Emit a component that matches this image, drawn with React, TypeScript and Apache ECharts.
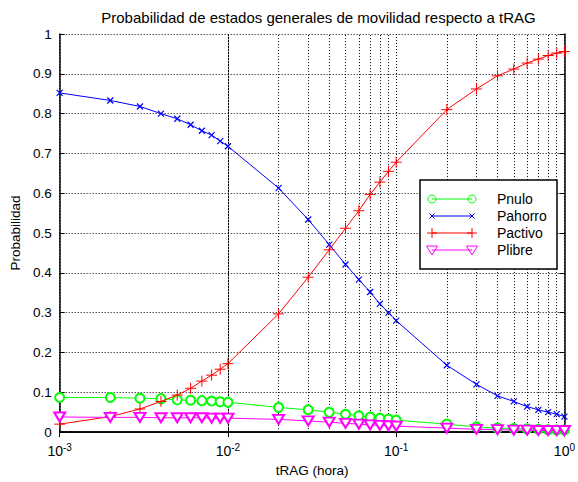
import React, { useEffect, useRef } from 'react';
import * as echarts from 'echarts';

const titleText = 'Probabilidad de estados generales de movilidad respecto a tRAG';
const xName = 'tRAG (hora)';
const yName = 'Probabilidad';
const seriesNames = ['Pnulo', 'Pahorro', 'Pactivo', 'Plibre'];

const tRAG = [
  0.001, 0.002, 0.003, 0.004, 0.005, 0.006, 0.007, 0.008, 0.009,
  0.01, 0.02, 0.03, 0.04, 0.05, 0.06, 0.07, 0.08, 0.09,
  0.1, 0.2, 0.3, 0.4, 0.5, 0.6, 0.7, 0.8, 0.9, 1,
];
const pnulo = [
  0.087, 0.087, 0.085, 0.084, 0.081, 0.080, 0.079, 0.078, 0.076,
  0.075, 0.062, 0.056, 0.050, 0.045, 0.041, 0.038, 0.035, 0.033,
  0.030, 0.020, 0.013, 0.010, 0.009, 0.008, 0.007, 0.006, 0.005, 0.005,
];
const pahorro = [
  0.852, 0.833, 0.818, 0.800, 0.787, 0.772, 0.757, 0.746, 0.731,
  0.718, 0.613, 0.534, 0.471, 0.421, 0.383, 0.352, 0.322, 0.300,
  0.280, 0.168, 0.120, 0.091, 0.077, 0.064, 0.056, 0.050, 0.045, 0.039,
];
const pactivo = [
  0.020, 0.039, 0.058, 0.077, 0.093, 0.110, 0.128, 0.143, 0.158,
  0.172, 0.297, 0.389, 0.458, 0.512, 0.556, 0.597, 0.628, 0.655,
  0.678, 0.810, 0.862, 0.895, 0.912, 0.927, 0.937, 0.946, 0.952, 0.956,
];
const plibre = [
  0.038, 0.037, 0.037, 0.036, 0.036, 0.036, 0.036, 0.035, 0.035,
  0.035, 0.032, 0.028, 0.025, 0.022, 0.020, 0.018, 0.017, 0.016,
  0.015, 0.010, 0.007, 0.006, 0.005, 0.005, 0.004, 0.004, 0.004, 0.004,
];
const minorGridX = [
  0.002, 0.003, 0.004, 0.005, 0.006, 0.007, 0.008, 0.009,
  0.02, 0.03, 0.04, 0.05, 0.06, 0.07, 0.08, 0.09,
  0.2, 0.3, 0.4, 0.5, 0.6, 0.7, 0.8, 0.9,
];

const FONT = 'Liberation Sans, Arial, sans-serif';
const GREEN = '#00ff00';
const BLUE = '#0000ff';
const RED = '#ff0000';
const MAGENTA = '#ff00ff';

const pairs = (ys: number[]) => tRAG.map((x, i) => [x, ys[i]]);

export default function App() {
  const ref = useRef<HTMLDivElement>(null);
  useEffect(() => {
    if (!ref.current) return;
    const chart = echarts.init(ref.current, null, { renderer: 'svg' });
    const dotted = { type: [1, 2] as any, color: '#000', width: 1 };
    const L = 59, R = 568, T = 34, B = 434;
    const lx = 420, ly = 180;
    const rows = [199, 216, 233, 250];
    const legendItems: any[] = [
      { type: 'rect', shape: { x: lx, y: ly, width: 137, height: 89 }, style: { fill: '#fff', stroke: '#000', lineWidth: 1.5 }, z: 100 },
    ];
    const colors = [GREEN, BLUE, RED, MAGENTA];
    rows.forEach((y, i) => {
      const c = colors[i];
      legendItems.push({ type: 'line', shape: { x1: 432, y1: y, x2: 472, y2: y }, style: { stroke: c, lineWidth: 1 }, z: 101 });
      [432, 472].forEach((x) => {
        if (i === 0) legendItems.push({ type: 'circle', shape: { cx: x, cy: y, r: 4 }, style: { fill: 'none', stroke: c, lineWidth: 1 }, z: 102 });
        if (i === 1) {
          legendItems.push({ type: 'line', shape: { x1: x - 2.5, y1: y - 2.5, x2: x + 2.5, y2: y + 2.5 }, style: { stroke: c, lineWidth: 1 }, z: 102 });
          legendItems.push({ type: 'line', shape: { x1: x - 2.5, y1: y + 2.5, x2: x + 2.5, y2: y - 2.5 }, style: { stroke: c, lineWidth: 1 }, z: 102 });
        }
        if (i === 2) {
          legendItems.push({ type: 'line', shape: { x1: x - 5, y1: y, x2: x + 5, y2: y }, style: { stroke: c, lineWidth: 1 }, z: 102 });
          legendItems.push({ type: 'line', shape: { x1: x, y1: y - 5, x2: x, y2: y + 5 }, style: { stroke: c, lineWidth: 1 }, z: 102 });
        }
        if (i === 3) legendItems.push({ type: 'polygon', shape: { points: [[x - 5.5, y - 4], [x + 5.5, y - 4], [x, y + 5]] }, style: { fill: 'none', stroke: c, lineWidth: 1 }, z: 102 });
      });
      legendItems.push({ type: 'text', x: 497, y: y, style: { text: seriesNames[i], font: `14px ${FONT}`, fill: '#000', textVerticalAlign: 'middle' }, z: 102 });
    });

    const xLabel = (v: number) => {
      const e = Math.round(Math.log10(v));
      return `{b|10}{s|${e}}`;
    };

    const option: any = {
      animation: false,
      backgroundColor: '#fff',
      textStyle: { fontFamily: FONT },
      title: {
        text: titleText,
        left: (L + R) / 2,
        textAlign: 'center',
        top: 5,
        textStyle: { fontSize: 15, fontWeight: 'normal', color: '#000', fontFamily: FONT },
      },
      grid: { left: L, right: 578 - R, top: T, bottom: 482 - B, show: false },
      xAxis: [
        {
          type: 'log', logBase: 10, min: 0.001, max: 1, position: 'bottom',
          name: xName, nameLocation: 'middle', nameGap: 30,
          nameTextStyle: { fontSize: 13.5, color: '#000', fontFamily: FONT },
          axisLine: { show: true, lineStyle: { color: '#000', width: 1.5 } },
          axisTick: { show: true, inside: true, length: 5, lineStyle: { color: '#000' } },
          axisLabel: {
            formatter: xLabel, margin: 10,
            rich: {
              b: { fontSize: 14, color: '#000', fontFamily: FONT },
              s: { fontSize: 10, color: '#000', fontFamily: FONT, verticalAlign: 'top', padding: [0, 0, 8, 0] },
            },
          },
          splitLine: { show: true, lineStyle: dotted },
          minorTick: { show: false },
        },
        {
          type: 'log', logBase: 10, min: 0.001, max: 1, position: 'top',
          axisLine: { show: true, lineStyle: { color: '#000', width: 1.5 } },
          axisTick: { show: true, inside: true, length: 5, lineStyle: { color: '#000' } },
          axisLabel: { show: false },
          splitLine: { show: false },
        },
      ],
      yAxis: [
        {
          type: 'value', min: 0, max: 1, interval: 0.1, position: 'left',
          name: yName, nameLocation: 'middle', nameGap: 34,
          nameTextStyle: { fontSize: 13.5, color: '#000', fontFamily: FONT },
          axisLine: { show: true, lineStyle: { color: '#000', width: 1.5 } },
          axisTick: { show: true, inside: true, length: 5, lineStyle: { color: '#000' } },
          axisLabel: {
            fontSize: 13.5, color: '#000', fontFamily: FONT, margin: 8,
            formatter: (v: number) => String(Math.round(v * 10) / 10),
          },
          splitLine: { show: true, lineStyle: dotted },
        },
        {
          type: 'value', min: 0, max: 1, interval: 0.1, position: 'right',
          axisLine: { show: true, lineStyle: { color: '#000', width: 1.5 } },
          axisTick: { show: true, inside: true, length: 5, lineStyle: { color: '#000' } },
          axisLabel: { show: false },
          splitLine: { show: false },
        },
      ],
      series: [
        {
          name: seriesNames[0], type: 'line', data: pairs(pnulo),
          xAxisIndex: 0, yAxisIndex: 0,
          symbol: 'emptyCircle', symbolSize: 9,
          lineStyle: { color: GREEN, width: 1 },
          itemStyle: { color: GREEN, borderColor: GREEN, borderWidth: 1 },
          markLine: {
            silent: true, symbol: ['none', 'none'], label: { show: false },
            lineStyle: dotted,
            data: minorGridX.map((v) => ({ xAxis: v })),
            z: 1,
          },
          z: 3,
        },
        {
          name: seriesNames[1], type: 'line', data: pairs(pahorro),
          xAxisIndex: 0, yAxisIndex: 0,
          symbol: 'path://M0,0L10,10M10,0L0,10', symbolSize: 6,
          lineStyle: { color: BLUE, width: 1 },
          itemStyle: { color: BLUE, borderColor: BLUE, borderWidth: 1.2 },
          z: 4,
        },
        {
          name: seriesNames[2], type: 'line', data: pairs(pactivo),
          xAxisIndex: 0, yAxisIndex: 0,
          symbol: 'path://M0,5L10,5M5,0L5,10', symbolSize: 11,
          lineStyle: { color: RED, width: 1 },
          itemStyle: { color: RED, borderColor: RED, borderWidth: 1 },
          z: 5,
        },
        {
          name: seriesNames[3], type: 'line', data: pairs(plibre),
          xAxisIndex: 0, yAxisIndex: 0,
          symbol: 'emptyTriangle', symbolRotate: 180, symbolSize: [11, 9],
          lineStyle: { color: MAGENTA, width: 1 },
          itemStyle: { color: MAGENTA, borderColor: MAGENTA, borderWidth: 1 },
          z: 6,
        },
      ],
      graphic: legendItems,
    };
    chart.setOption(option);
    return () => chart.dispose();
  }, []);
  return <div ref={ref} style={{ width: 578, height: 482, position: 'absolute', left: 0, top: 0 }} />;
}
